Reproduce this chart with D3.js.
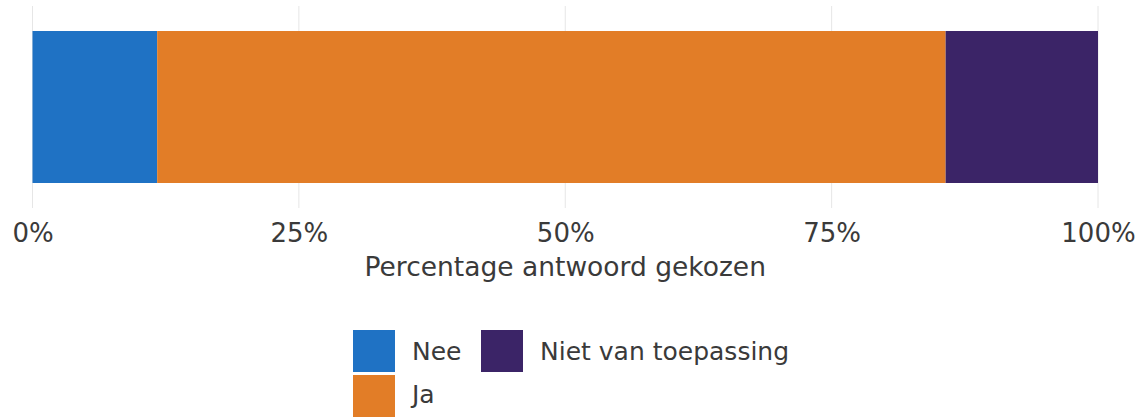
<!DOCTYPE html>
<html>
<head>
<meta charset="utf-8">
<script src="https://cdn.jsdelivr.net/npm/d3@7"></script>
<style>
  html, body { margin: 0; padding: 0; background: #fff; }
  svg { display: block; }
  text { font-family: "DejaVu Sans", Verdana, sans-serif; fill: #3a3a3a; }
</style>
</head>
<body>
<svg id="chart" width="1147" height="418"></svg>
<script>
// Data
const categories = ["Nee", "Ja", "Niet van toepassing"];
const values = [11.7, 74.0, 14.3];
const colors = ["#1f72c4", "#e27d27", "#3b2467"];
const tickValues = [0, 25, 50, 75, 100];
const tickLabels = ["0%", "25%", "50%", "75%", "100%"];
const axisTitle = "Percentage antwoord gekozen";

const svg = d3.select("#chart");
const x = d3.scaleLinear().domain([0, 100]).range([32.5, 1098]);

// gridlines
svg.append("g").selectAll("line").data(tickValues).join("line")
  .attr("x1", d => x(d)).attr("x2", d => x(d))
  .attr("y1", 6).attr("y2", 208)
  .attr("stroke", "#e6e6e6").attr("stroke-width", 1);

// stacked bar
let cum = 0;
const segs = values.map((v, i) => { const s = {cat: categories[i], x0: cum, x1: cum + v, color: colors[i]}; cum += v; return s; });
svg.append("g").selectAll("rect").data(segs).join("rect")
  .attr("x", d => x(d.x0)).attr("width", d => x(d.x1) - x(d.x0))
  .attr("y", 31).attr("height", 152)
  .attr("fill", d => d.color);

// axis
const axis = d3.axisBottom(x).tickValues(tickValues).tickFormat((d, i) => tickLabels[i]).tickSize(0).tickPadding(0);
const ag = svg.append("g").attr("transform", "translate(0,223)").call(axis);
ag.select(".domain").remove();
ag.selectAll("text").attr("font-size", 26).attr("dy", "0.73em").style("fill", "#3a3a3a")
  .attr("font-family", "DejaVu Sans, Verdana, sans-serif");

svg.append("text").attr("x", x(50)).attr("y", 276).attr("text-anchor", "middle")
  .attr("font-size", 26.5).text(axisTitle);

// legend
const legendItems = [
  {i: 0, sx: 353, sy: 330, tx: 412, ty: 360},
  {i: 1, sx: 353, sy: 375, tx: 412, ty: 403},
  {i: 2, sx: 481, sy: 330, tx: 540, ty: 360}
];
const lg = svg.append("g");
legendItems.forEach(it => {
  lg.append("rect").attr("x", it.sx).attr("y", it.sy).attr("width", 42).attr("height", 42).attr("fill", colors[it.i]);
  lg.append("text").attr("x", it.tx).attr("y", it.ty).attr("font-size", 25).text(categories[it.i]);
});
</script>
</body>
</html>
